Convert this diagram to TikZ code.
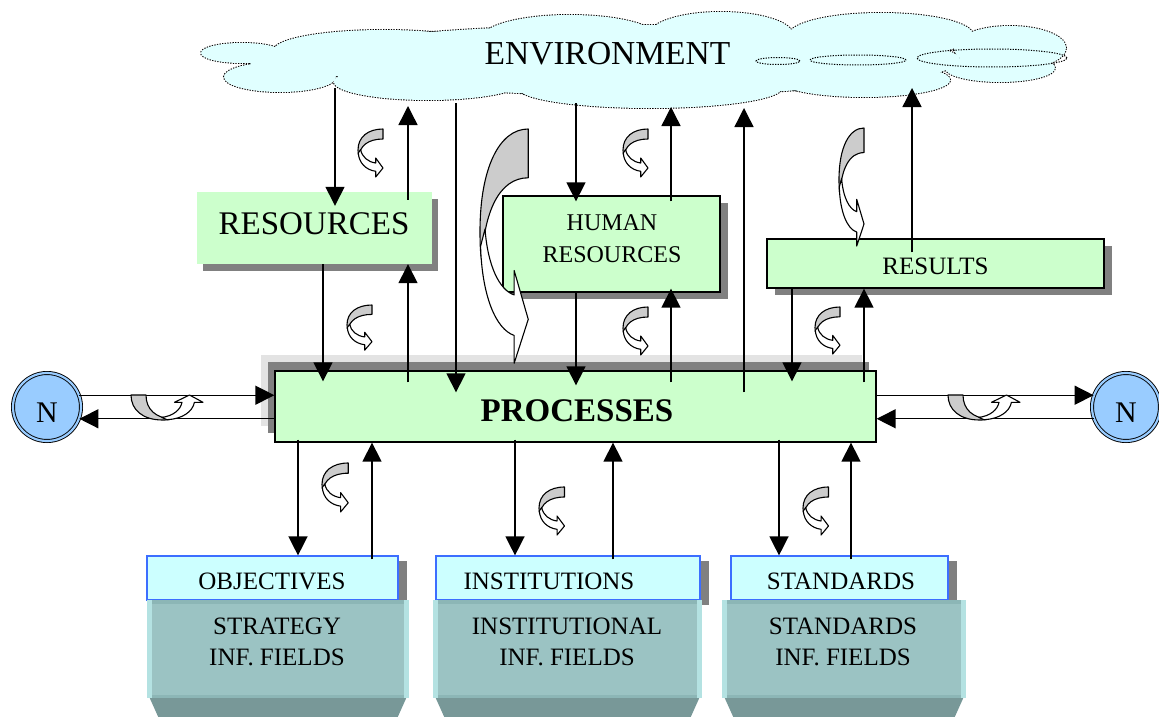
\documentclass[tikz,border=0pt]{standalone}
\usepackage{fontspec}
\setmainfont{Liberation Serif}
\usetikzlibrary{arrows.meta,shadows}

\definecolor{cloudfill}{RGB}{224,255,255}
\definecolor{boxgreen}{RGB}{204,255,204}
\definecolor{shadowgray}{RGB}{128,128,128}
\definecolor{palegray}{RGB}{227,227,227}
\definecolor{cyanfill}{RGB}{204,255,255}
\definecolor{cyanedge}{RGB}{60,110,255}
\definecolor{tealbody}{RGB}{155,195,195}
\definecolor{tealtop}{RGB}{140,182,182}
\definecolor{teallight}{RGB}{180,226,226}
\definecolor{tealbase}{RGB}{120,152,152}
\definecolor{nodeblue}{RGB}{153,204,255}
\definecolor{ribbongray}{RGB}{204,204,204}

\tikzset{
  conn/.style={line width=1.4pt, -{Triangle[length=19pt,width=19pt]}},
  greenbox/.style={rectangle, fill=boxgreen, inner sep=0pt},
  framed/.style={draw=black, line width=1.3pt},
  cyanbox/.style={rectangle, fill=cyanfill, draw=cyanedge, line width=1.2pt,
    inner sep=0pt, minimum height=44pt,
    general shadow={draw=none, fill=shadowgray, shadow xshift=9pt, shadow yshift=-5pt}},
  tealbox/.style={rectangle, fill=tealbody, inner sep=0pt, minimum height=98pt},
  bigtext/.style={font=\fontsize{33}{40}\selectfont},
  midtext/.style={font=\fontsize{24}{32}\selectfont, align=center},
  lowtext/.style={font=\fontsize{25}{31}\selectfont, align=center},
  ncircle/.style={circle, draw=black, line width=0.9pt, double=nodeblue,
    double distance=2.2pt, fill=nodeblue, minimum size=68pt, inner sep=0pt,
    font=\fontsize{30}{30}\selectfont, text height=30pt},
  cloudline/.style={draw=black, line width=2pt, dash pattern=on 1.3pt off 1.3pt},
  ribbonline/.style={draw=black, line width=1.1pt, line join=round},
  ribbon/.pic={
    \filldraw[ribbonline, fill=ribbongray] (25,0) .. controls (10,0) and (0,8) .. (0,21)
      .. controls (0,24) and (0.3,26) .. (1,27) .. controls (2,17) and (10,10) .. (25,10) -- cycle;
    \filldraw[ribbonline, fill=white] (0.3,24) .. controls (1,34) and (8,41) .. (17.7,42.3)
      -- (17.7,48) -- (25,39) -- (17.7,29) -- (17.7,34)
      .. controls (10,33) and (4,28) .. (2.6,20.5) -- cycle;
  }
}

\begin{document}
\begin{tikzpicture}[x=1pt,y=-1pt]
\useasboundingbox (0,0) rectangle (1159,717);
\fill[white] (0,0) rectangle (1159,717);

% ---------- environment cloud ----------
\def\cloudlobes{
  (242,53) ellipse [x radius=41pt, y radius=10pt]
  (280,77) ellipse [x radius=56pt, y radius=15pt]
  (384,50) ellipse [x radius=110pt, y radius=20pt]
  (570,38) ellipse [x radius=88pt, y radius=23pt]
  (721,35) ellipse [x radius=72pt, y radius=23pt]
  (881,35) ellipse [x radius=92pt, y radius=22pt]
  (1010,48) ellipse [x radius=56pt, y radius=22pt]
  (1000,68) ellipse [x radius=55pt, y radius=14pt]
  (428,82) ellipse [x radius=94pt, y radius=18pt]
  (650,88) ellipse [x radius=132pt, y radius=20pt]
  (864,80) ellipse [x radius=86pt, y radius=17pt]
  (630,60) ellipse [x radius=330pt, y radius=35pt]
  (300,62) ellipse [x radius=50pt, y radius=16pt]
}
\path[cloudline] \cloudlobes;
\fill[cloudfill] \cloudlobes;
\draw[cloudline, line width=1pt] (778,61) ellipse [x radius=22pt, y radius=3.5pt]
  (858,60) ellipse [x radius=48pt, y radius=5pt]
  (992,58) ellipse [x radius=75pt, y radius=9pt];
\node[bigtext, font=\fontsize{33.5}{40}\selectfont] (env) at (607.5,54) {ENVIRONMENT};

% cloud edge points used by the vertical connectors
\coordinate (cA) at (335,88);
\coordinate (cB) at (408,106);
\coordinate (cC) at (456,103);
\coordinate (cD) at (576,103);
\coordinate (cE) at (671,107);
\coordinate (cF) at (744,108);
\coordinate (cG) at (912,88);

% ---------- upper boxes ----------
\node[greenbox, minimum width=235pt, minimum height=72pt,
  general shadow={draw=none, fill=shadowgray, shadow xshift=6pt, shadow yshift=-7pt}]
  (res) at (314.5,228) {};
\node[bigtext] (resT) at (314,224) {RESOURCES};

\node[greenbox, framed, minimum width=217pt, minimum height=96pt,
  general shadow={draw=none, fill=shadowgray, shadow xshift=8pt, shadow yshift=-7pt}]
  (hr) at (611.5,244) {};
\node[midtext] (hrT) at (612,239) {HUMAN\\RESOURCES};

\node[greenbox, framed, minimum width=337pt, minimum height=49pt,
  general shadow={draw=none, fill=shadowgray, shadow xshift=8pt, shadow yshift=-7pt}]
  (resl) at (935.5,263.5) {};
\node[midtext, font=\fontsize{25}{32}\selectfont] (reslT) at (935.5,266) {RESULTS};

% ---------- processes ----------
\node[greenbox, framed, minimum width=601pt, minimum height=71pt,
  general shadow={draw=none, fill=palegray, shadow xshift=-14pt, shadow yshift=16pt},
  general shadow={draw=none, fill=shadowgray, shadow xshift=-7pt, shadow yshift=9pt}]
  (proc) at (575.5,406.5) {};
\node[font=\fontsize{33}{40}\selectfont\bfseries] (procT) at (577,411) {PROCESSES};

% ---------- lower boxes ----------
\node[cyanbox, minimum width=251pt] (obj) at (272.5,578) {};
\node[cyanbox, minimum width=264pt] (inst) at (568,578) {};
\node[cyanbox, minimum width=217pt] (std) at (839.5,578) {};

\node[tealbox, minimum width=262pt] (stratb) at (278,649) {};
\node[tealbox, minimum width=269pt] (instb) at (567.5,649) {};
\node[tealbox, minimum width=244pt] (stdb) at (844,649) {};

\foreach \t in {stratb,instb,stdb}{
  \fill[tealtop] (\t.north west) rectangle ([yshift=-4pt]\t.north east);
  \fill[tealtop] ([yshift=3pt]\t.south west) rectangle (\t.south east);
  \fill[teallight] (\t.north west) rectangle ([xshift=5pt]\t.south west);
  \fill[teallight] ([xshift=-5pt]\t.north east) rectangle (\t.south east);
  \fill[tealbase] ([xshift=3pt]\t.south west) -- ([xshift=-3pt]\t.south east)
    -- ([xshift=-12pt,yshift=-20pt]\t.south east) -- ([xshift=12pt,yshift=-20pt]\t.south west) -- cycle;
}

\node[lowtext] (objT) at (272,581.5) {OBJECTIVES};
\node[lowtext] (instT) at (549,581.5) {INSTITUTIONS};
\node[lowtext] (stdT) at (841,581.5) {STANDARDS};
\node[lowtext] (stratT) at (277,642) {STRATEGY\\INF. FIELDS};
\node[lowtext] (instfT) at (567,642) {INSTITUTIONAL\\INF. FIELDS};
\node[lowtext] (stdfT) at (843,642) {STANDARDS\\INF. FIELDS};

% ---------- N nodes ----------
\node[ncircle] (nL) at (47,407) {N};
\node[ncircle] (nR) at (1126,407) {N};

% ---------- connectors: upper part ----------
\draw[conn] (cA) -- ([yshift=-14pt]res.north -| cA);
\draw[conn] ([yshift=-8pt]res.north -| cB) -- (cB);
\draw[conn] (res.south -| 323,0) -- ([yshift=-11pt]proc.north -| 323,0);
\draw[conn] ([yshift=-12pt]proc.north -| 408,0) -- (res.south -| 408,0);
\draw[conn] (cC) -- ([yshift=-22pt]proc.north -| cC);
\draw[conn] (cD) -- ([yshift=-6pt]hr.north -| cD);
\draw[conn] ([yshift=-6pt]hr.north -| cE) -- (cE);
\draw[conn] (hr.south -| 576,0) -- ([yshift=-15pt]proc.north -| 576,0);
\draw[conn] ([yshift=-12pt]proc.north -| 671,0) -- ([yshift=4pt]hr.south -| 671,0);
\draw[conn] ([yshift=-22pt]proc.north -| cF) -- (cF);
\draw[conn] ([yshift=-14pt]resl.north -| cG) -- (cG);
\draw[conn] (resl.south -| 792,0) -- ([yshift=-11pt]proc.north -| 792,0);
\draw[conn] ([yshift=-12pt]proc.north -| 864,0) -- (resl.south -| 864,0);

% ---------- connectors: lower part ----------
\draw[conn] ([yshift=3pt]proc.south -| 298,0) -- (obj.north -| 298,0);
\draw[conn] ([yshift=-4pt]obj.north -| 372,0) -- (proc.south -| 372,0);
\draw[conn] ([yshift=3pt]proc.south -| 515,0) -- (inst.north -| 515,0);
\draw[conn] ([yshift=-4pt]inst.north -| 613,0) -- (proc.south -| 613,0);
\draw[conn] ([yshift=3pt]proc.south -| 779,0) -- (std.north -| 779,0);
\draw[conn] ([yshift=-4pt]std.north -| 851,0) -- (proc.south -| 851,0);

% ---------- connectors: N nodes ----------
\draw[conn] (nL.20) -- (proc.west |- nL.20);
\draw[conn] (proc.west |- nL.-20) -- (nL.-20);
\draw[conn] (proc.east |- nR.160) -- (nR.160);
\draw[conn] (nR.200) -- (proc.east |- nR.200);

% ---------- feedback ribbons ----------
\begin{scope}[shift={(358,129)}] \pic {ribbon}; \end{scope}
\begin{scope}[shift={(347,305)}, yscale=0.94] \pic[transform shape] {ribbon}; \end{scope}
\begin{scope}[shift={(623,129)}] \pic {ribbon}; \end{scope}
\begin{scope}[shift={(623,307)}] \pic {ribbon}; \end{scope}
\begin{scope}[shift={(815,307)}, yscale=0.98] \pic[transform shape] {ribbon}; \end{scope}
\begin{scope}[shift={(839,128)}, yscale=2.46] \pic[transform shape] {ribbon}; \end{scope}
\begin{scope}[shift={(480,129)}, xscale=1.93, yscale=4.88] \pic[transform shape] {ribbon}; \end{scope}
\begin{scope}[shift={(322,463)}, xscale=1.05, yscale=1.02] \pic[transform shape] {ribbon}; \end{scope}
\begin{scope}[shift={(539,487)}, xscale=1.02] \pic[transform shape] {ribbon}; \end{scope}
\begin{scope}[shift={(803,487)}, xscale=1.02] \pic[transform shape] {ribbon}; \end{scope}
\begin{scope}[shift={(131,420)}, x={(0pt,1pt)}, y={(1.5pt,0pt)}] \pic {ribbon}; \end{scope}
\begin{scope}[shift={(948,420)}, x={(0pt,1pt)}, y={(1.5pt,0pt)}] \pic {ribbon}; \end{scope}

\end{tikzpicture}
\end{document}
